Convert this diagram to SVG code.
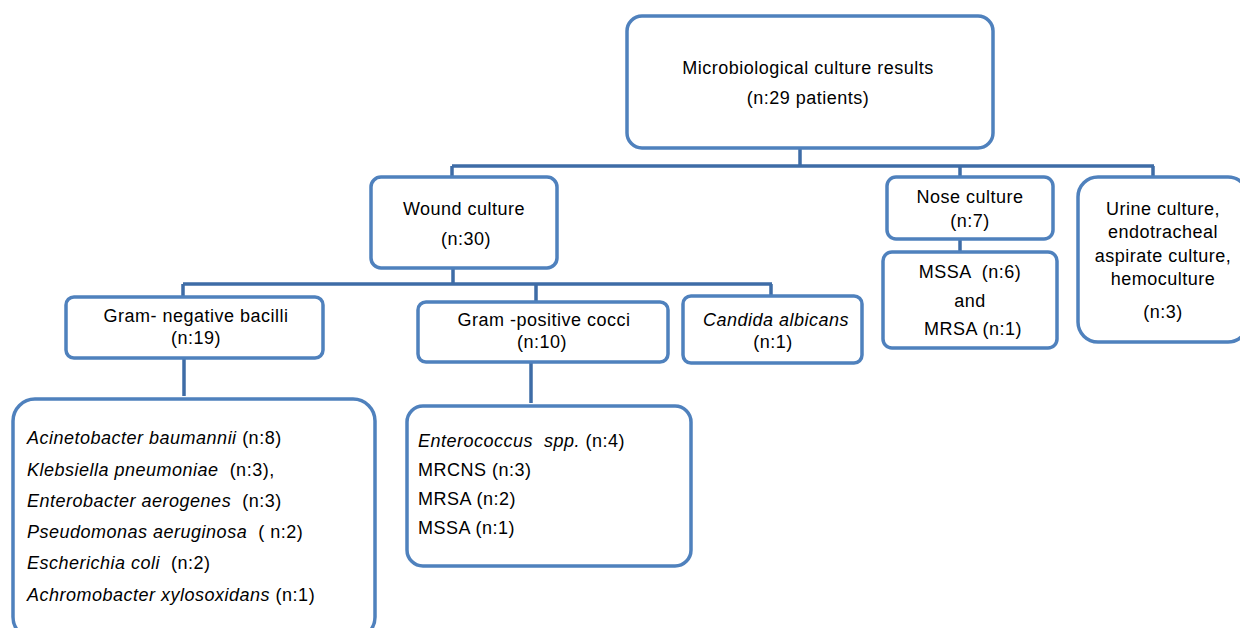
<svg xmlns="http://www.w3.org/2000/svg" width="1240" height="628" viewBox="0 0 1240 628">
<style>
.box{fill:#ffffff;stroke:#4f81bd;stroke-width:3.5}
.con{fill:none;stroke:#3e6ca6;stroke-width:3.5}
text{font-family:"Liberation Sans",Arial,sans-serif;font-size:18px;letter-spacing:0.5px;fill:#000000}
.c{text-anchor:middle}
.i{font-style:italic}
</style>
<rect width="1240" height="628" fill="#ffffff"/>
<g id="connectors">
<path class="con" d="M800 148 V166 M452 166 H1154 M452 166 V177 M960 166 V177 M1153 166 V177"/>
<path class="con" d="M453 268 V284 M183 284 H772 M183 284 V297 M536 284 V302 M771 284 V296"/>
<path class="con" d="M184 358 V396"/>
<path class="con" d="M531 362 V403"/>
<path class="con" d="M960 239 V252"/>
</g>
<g id="root">
<rect class="box" x="627" y="16" width="366" height="132" rx="15"/>
<text class="c" x="808" y="74">Microbiological culture results</text>
<text class="c" x="808" y="104">(n:29 patients)</text>
</g>
<g id="wound">
<rect class="box" x="371" y="177" width="186" height="91" rx="10"/>
<text class="c" x="464" y="215">Wound culture</text>
<text class="c" x="466" y="245">(n:30)</text>
</g>
<g id="nose">
<rect class="box" x="887" y="177" width="166" height="62" rx="9"/>
<text class="c" x="970" y="203">Nose culture</text>
<text class="c" x="970" y="227">(n:7)</text>
</g>
<g id="nose-result">
<rect class="box" x="883" y="252" width="174" height="96" rx="9"/>
<text class="c" x="970" y="278" xml:space="preserve">MSSA  (n:6)</text>
<text class="c" x="970" y="307">and</text>
<text class="c" x="973" y="335">MRSA (n:1)</text>
</g>
<g id="other">
<rect class="box" x="1078" y="177" width="170" height="165" rx="20"/>
<text class="c" x="1163" y="215">Urine culture,</text>
<text class="c" x="1163" y="238">endotracheal</text>
<text class="c" x="1163" y="262">aspirate culture,</text>
<text class="c" x="1163" y="285">hemoculture</text>
<text class="c" x="1163" y="318">(n:3)</text>
</g>
<g id="gram-negative">
<rect class="box" x="66" y="297" width="257" height="61" rx="8"/>
<text class="c" x="196" y="322">Gram- negative bacilli</text>
<text class="c" x="196" y="344">(n:19)</text>
</g>
<g id="gram-positive">
<rect class="box" x="418" y="302" width="250" height="60" rx="8"/>
<text class="c" x="544" y="326">Gram -positive cocci</text>
<text class="c" x="542" y="348">(n:10)</text>
</g>
<g id="candida">
<rect class="box" x="683" y="296" width="179" height="67" rx="8"/>
<text class="c" x="776" y="326"><tspan class="i">Candida albicans</tspan></text>
<text class="c" x="773" y="348">(n:1)</text>
</g>
<g id="gram-negative-list">
<rect class="box" x="13" y="399" width="362" height="240" rx="22"/>
<text x="27" y="444" xml:space="preserve"><tspan class="i">Acinetobacter baumannii</tspan> (n:8)</text>
<text x="27" y="476" xml:space="preserve"><tspan class="i">Klebsiella pneumoniae</tspan>  (n:3),</text>
<text x="27" y="507" xml:space="preserve"><tspan class="i">Enterobacter aerogenes</tspan>  (n:3)</text>
<text x="27" y="538" xml:space="preserve"><tspan class="i">Pseudomonas aeruginosa</tspan>  ( n:2)</text>
<text x="27" y="569" xml:space="preserve"><tspan class="i">Escherichia coli</tspan>  (n:2)</text>
<text x="27" y="601" xml:space="preserve"><tspan class="i">Achromobacter xylosoxidans</tspan> (n:1)</text>
</g>
<g id="gram-positive-list">
<rect class="box" x="407" y="406" width="284" height="160" rx="16"/>
<text x="418" y="447" xml:space="preserve"><tspan class="i">Enterococcus  spp.</tspan> (n:4)</text>
<text x="418" y="476">MRCNS (n:3)</text>
<text x="418" y="505">MRSA (n:2)</text>
<text x="418" y="534">MSSA (n:1)</text>
</g>
</svg>
